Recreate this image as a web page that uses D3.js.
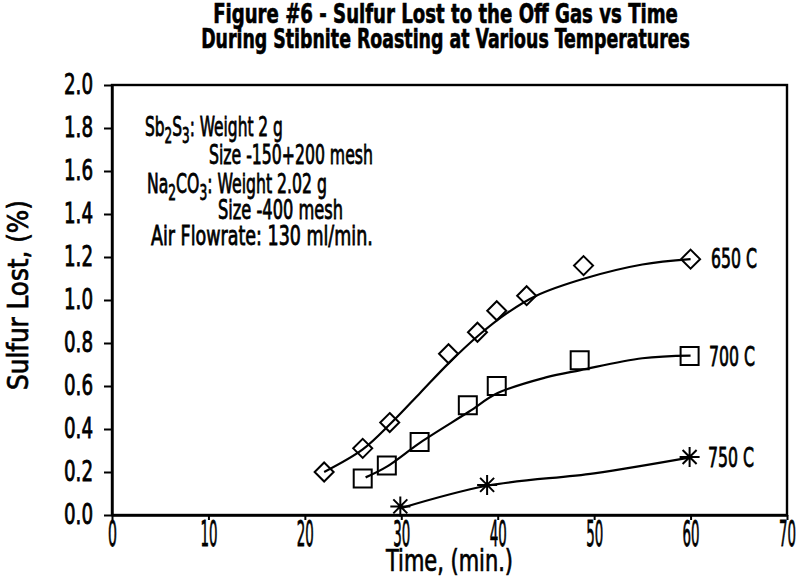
<!DOCTYPE html>
<html>
<head>
<meta charset="utf-8">
<script src="https://cdn.jsdelivr.net/npm/d3@7"></script>
<style>
  html, body { margin: 0; padding: 0; background: #fff; }
  svg { display: block; }
  text { font-family: "DejaVu Sans Condensed", "DejaVu Sans", sans-serif; fill: #000; }
</style>
</head>
<body>
<svg id="chart" width="800" height="584"></svg>
<script>
// ---------- data ----------
const titleLines = ["Figure #6 - Sulfur Lost to the Off Gas vs Time",
                    "During Stibnite Roasting at Various Temperatures"];
const xTicks = [0, 10, 20, 30, 40, 50, 60, 70];
const yTicks = [0.0, 0.2, 0.4, 0.6, 0.8, 1.0, 1.2, 1.4, 1.6, 1.8, 2.0];
const seriesNames = ["650 C", "700 C", "750 C"];

// measured points
const times650 = [22, 26, 28.8, 34.9, 37.9, 39.9, 43, 48.9, 60];
const loss650  = [0.20, 0.31, 0.43, 0.75, 0.85, 0.95, 1.02, 1.16, 1.19];
const times700 = [26, 28.5, 31.9, 36.9, 39.9, 48.5, 59.9];
const loss700  = [0.17, 0.23, 0.34, 0.51, 0.60, 0.72, 0.74];
const times750 = [29.9, 38.9, 59.9];
const loss750  = [0.04, 0.14, 0.27];

// fitted curves
const fitTimes650 = [22, 26, 29, 32, 35, 38, 41, 44, 49, 55, 60];
const fitLoss650  = [0.20, 0.305, 0.43, 0.57, 0.71, 0.835, 0.94, 1.02, 1.10, 1.165, 1.19];
const fitTimes700 = [26.3, 28.5, 32, 37, 40, 45, 48.6, 55, 60];
const fitLoss700  = [0.175, 0.225, 0.338, 0.48, 0.567, 0.64, 0.674, 0.729, 0.741];
const fitTimes750 = [29.9, 38.9, 50, 60];
const fitLoss750  = [0.031, 0.136, 0.194, 0.268];

// ---------- chart ----------
const svg = d3.select("#chart");
const x = d3.scaleLinear().domain([0, 70]).range([112, 787]);
const y = d3.scaleLinear().domain([0, 2]).range([515, 85]);

// helper: place text and squeeze it horizontally to a target width
function fitText(parent, str, px, py, width, size, anchor, weight, strokeW) {
  const g = parent.append("g");
  const t = g.append("text")
    .attr("font-size", size)
    .attr("text-anchor", anchor || "start")
    .attr("font-weight", weight || "normal")
    .attr("stroke", "#000").attr("stroke-width", strokeW || 0)
    .text(str);
  const w = t.node().getComputedTextLength();
  g.attr("transform", `translate(${px},${py}) scale(${width / w},1)`);
  return t;
}

// title
fitText(svg, titleLines[0], 445.5, 23, 465, 26, "middle", "bold", 0.6);
fitText(svg, titleLines[1], 445.5, 48, 489, 26, "middle", "bold", 0.6);

// frame
svg.append("rect")
  .attr("x", x(0)).attr("y", y(2))
  .attr("width", x(70) - x(0)).attr("height", y(0) - y(2))
  .attr("fill", "none").attr("stroke", "#000").attr("stroke-width", 2.4);

// y axis
const yAxis = svg.append("g").attr("transform", `translate(${x(0)},0)`)
  .call(d3.axisLeft(y).tickValues(yTicks).tickFormat(d3.format(".1f"))
        .tickSize(8).tickSizeOuter(0).tickPadding(11));
yAxis.select(".domain").attr("stroke-width", 2.4);
yAxis.selectAll(".tick line").attr("stroke-width", 2);
yAxis.selectAll(".tick text")
  .attr("font-size", 28).attr("font-family", null)
  .attr("stroke", "#000").attr("stroke-width", 0.8)
  .attr("textLength", 29).attr("lengthAdjust", "spacingAndGlyphs");

// x axis
const xAxis = svg.append("g").attr("transform", `translate(0,${y(0)})`)
  .call(d3.axisBottom(x).tickValues(xTicks).tickFormat(d3.format("d"))
        .tickSize(5).tickSizeOuter(0).tickPadding(1));
xAxis.select(".domain").attr("stroke-width", 2.4);
xAxis.selectAll(".tick line").attr("stroke-width", 2);
xAxis.selectAll(".tick text")
  .attr("font-size", 35).attr("font-family", null)
  .attr("stroke", "#000").attr("stroke-width", 0.8)
  .attr("textLength", d => d === 0 ? 9 : 17).attr("lengthAdjust", "spacingAndGlyphs");

// axis titles
fitText(svg, "Time, (min.)", 449.5, 571, 127, 30, "middle", "normal", 0.7);
{
  const g = svg.append("g").attr("transform", "translate(28,295) rotate(-90)");
  fitText(g, "Sulfur Lost, (%)", 0, 0, 190, 28, "middle", "normal", 0.7);
}

// annotation block
function richLine(parts, px, py, width) {
  const g = svg.append("g");
  const t = g.append("text").attr("font-size", 27)
    .attr("stroke", "#000").attr("stroke-width", 0.8);
  parts.forEach(p => {
    const ts = t.append("tspan").text(p.s);
    if (p.sub) ts.attr("font-size", 21).attr("dy", 7);
    if (p.up) ts.attr("dy", -7);
  });
  const w = t.node().getComputedTextLength();
  g.attr("transform", `translate(${px},${py}) scale(${width / w},1)`);
}
richLine([{s: "Sb"}, {s: "2", sub: true}, {s: "S", up: true}, {s: "3", sub: true}, {s: ": Weight 2 g", up: true}], 145, 136, 138);
fitText(svg, "Size -150+200 mesh", 209, 164, 164, 27, "start", "normal", 0.8);
richLine([{s: "Na"}, {s: "2", sub: true}, {s: "CO", up: true}, {s: "3", sub: true}, {s: ": Weight 2.02 g", up: true}], 147, 193, 180);
fitText(svg, "Size -400 mesh", 218, 219, 125, 27, "start", "normal", 0.8);
fitText(svg, "Air Flowrate: 130 ml/min.", 151, 245, 222, 27, "start", "normal", 0.8);

// curves
const line = d3.line().x(d => x(d[0])).y(d => y(d[1])).curve(d3.curveCatmullRom.alpha(0.5));
const fits = [
  d3.zip(fitTimes650, fitLoss650),
  d3.zip(fitTimes700, fitLoss700),
  d3.zip(fitTimes750, fitLoss750)
];
fits.forEach(f => {
  svg.append("path").attr("d", line(f))
    .attr("fill", "none").attr("stroke", "#000").attr("stroke-width", 2.2);
});

// markers
const diamondPath = "M0,-9.5L9.5,0L0,9.5L-9.5,0Z";
const squarePath = "M-9,-9h18v18h-18Z";
const starPath = "M0,-10V10M-10,0H10M-7,-7L7,7M-7,7L7,-7";

function drawMarkers(ts, vs, path) {
  svg.append("g").selectAll("path").data(d3.zip(ts, vs)).join("path")
    .attr("transform", d => `translate(${x(d[0])},${y(d[1])})`)
    .attr("d", path)
    .attr("fill", "none").attr("stroke", "#000").attr("stroke-width", 2);
}
drawMarkers(times650, loss650, diamondPath);
drawMarkers(times700, loss700, squarePath);
drawMarkers(times750, loss750, starPath);

// series labels
fitText(svg, seriesNames[0], 711, 268, 46, 27, "start", "normal", 0.8);
fitText(svg, seriesNames[1], 709, 366, 46, 27, "start", "normal", 0.8);
fitText(svg, seriesNames[2], 708, 467, 46, 27, "start", "normal", 0.8);
</script>
</body>
</html>
